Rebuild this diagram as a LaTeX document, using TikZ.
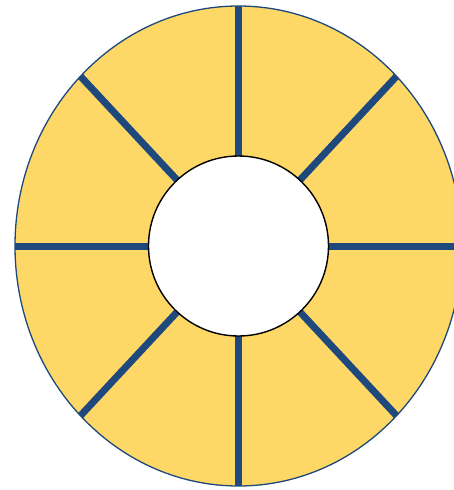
\documentclass[tikz,border=0pt]{standalone}
\usepackage{tikz}
\definecolor{ringfill}{HTML}{FDD867}
\definecolor{spoke}{HTML}{1F497D}
\tikzset{
  ring/.style={fill=ringfill, draw=spoke, line width=1.3pt},
  spokeline/.style={draw=spoke, line width=7pt},
  hub/.style={fill=white, draw=black, line width=1.4pt}
}
\begin{document}
\begin{tikzpicture}[x=1pt,y=-1pt]
\useasboundingbox (0,0) rectangle (454,490);
\clip (0,0) rectangle (454,490);
\coordinate (c) at (238.5,246);
\draw[ring] (c) ellipse [x radius=223.5, y radius=240];
\foreach \a in {0,45,...,315} {
  \draw[spokeline] (c) -- ++({223.5*cos(\a)},{240*sin(\a)});
}
\draw[hub] (c) circle [radius=90];
\end{tikzpicture}
\end{document}
